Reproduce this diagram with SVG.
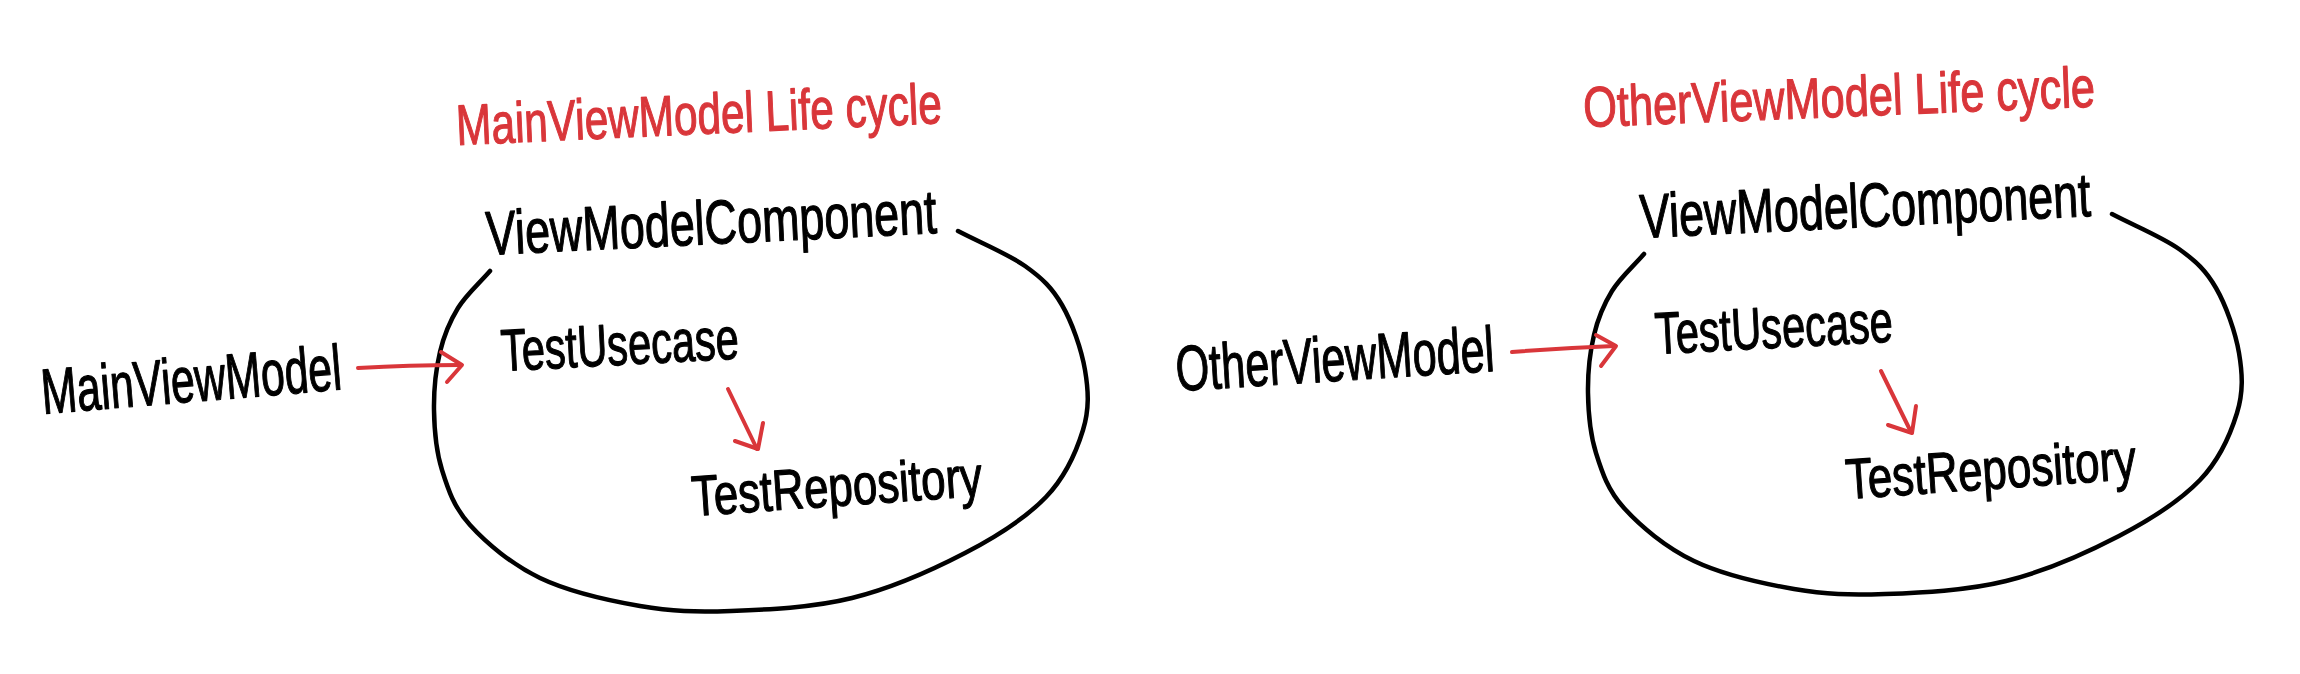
<svg xmlns="http://www.w3.org/2000/svg" xmlns:xlink="http://www.w3.org/1999/xlink" width="2300" height="674" viewBox="0 0 2300 674">
  <style>
    .ink { fill: #000; stroke: #000; stroke-width: 1.2; stroke-linejoin: round; font-family: "Liberation Sans", Arial, sans-serif; }
    .red { fill: #d9363a; stroke: #d9363a; stroke-width: 1.2; stroke-linejoin: round; font-family: "Liberation Sans", Arial, sans-serif; }
    .blob { fill: none; stroke: #000; stroke-width: 4.5; stroke-linecap: round; stroke-linejoin: round; }
    .conn { fill: none; stroke: #d9363a; stroke-width: 4; stroke-linecap: round; stroke-linejoin: round; }
  </style>
  <defs>
    <path id="blobPath" d="M490,271 C479.3,283.3 466.3,294.5 458,308 C449.7,321.5 444,335 440,352 C436,369 433.7,390.3 434,410 C434.3,429.7 436,450.8 442,470 C448,489.2 453.7,507 470,525 C486.3,543 511.7,564.5 540,578 C568.3,591.5 608.2,600.5 640,606 C671.8,611.5 695.7,612.3 731,611 C766.3,609.7 813,607.7 852,598 C891,588.3 932.7,569.8 965,553 C997.3,536.2 1026.3,517.5 1046,497 C1065.7,476.5 1076.5,451.2 1083,430 C1089.5,408.8 1088.5,390.8 1085,370 C1081.5,349.2 1072,322.3 1062,305 C1052,287.7 1042.3,278.3 1025,266 C1007.7,253.7 980.3,242.7 958,231"/>
  </defs>
  <rect width="2300" height="674" fill="#fff"/>

  <!-- Left panel -->
  <g id="title-main">
    <text class="red" x="457" y="145" font-size="57" textLength="486" lengthAdjust="spacingAndGlyphs" transform="rotate(-2.6 457 145)">MainViewModel Life cycle</text>
  </g>
  <g id="component-main">
    <use xlink:href="#blobPath" href="#blobPath" class="blob"/>
    <text class="ink" x="487" y="255" font-size="62" textLength="451" lengthAdjust="spacingAndGlyphs" transform="rotate(-2.8 487 255)">ViewModelComponent</text>
  </g>
  <g id="mainviewmodel">
    <text class="ink" x="43" y="414" font-size="64" textLength="301" lengthAdjust="spacingAndGlyphs" transform="rotate(-4.7 43 414)">MainViewModel</text>
  </g>
  <g id="usecase-main">
    <text class="ink" x="502" y="371" font-size="59" textLength="238" lengthAdjust="spacingAndGlyphs" transform="rotate(-3 502 371)">TestUsecase</text>
  </g>
  <g id="repository-main">
    <text class="ink" x="693" y="516" font-size="57" textLength="291" lengthAdjust="spacingAndGlyphs" transform="rotate(-4 693 516)">TestRepository</text>
  </g>

  <!-- Right panel -->
  <g id="title-other">
    <text class="red" x="1584" y="127" font-size="57" textLength="512" lengthAdjust="spacingAndGlyphs" transform="rotate(-2.3 1584 127)">OtherViewModel Life cycle</text>
  </g>
  <g id="component-other">
    <use xlink:href="#blobPath" href="#blobPath" class="blob" transform="translate(1154 -17)"/>
    <text class="ink" x="1641" y="238" font-size="62" textLength="451" lengthAdjust="spacingAndGlyphs" transform="rotate(-2.8 1641 238)">ViewModelComponent</text>
  </g>
  <g id="otherviewmodel">
    <text class="ink" x="1177" y="391" font-size="64" textLength="319" lengthAdjust="spacingAndGlyphs" transform="rotate(-3.6 1177 391)">OtherViewModel</text>
  </g>
  <g id="usecase-other">
    <text class="ink" x="1656" y="354" font-size="59" textLength="238" lengthAdjust="spacingAndGlyphs" transform="rotate(-3 1656 354)">TestUsecase</text>
  </g>
  <g id="repository-other">
    <text class="ink" x="1847" y="499" font-size="57" textLength="291" lengthAdjust="spacingAndGlyphs" transform="rotate(-4 1847 499)">TestRepository</text>
  </g>

  <!-- Connectors -->
  <g id="connectors">
    <path class="conn" d="M358,368 Q410,365 460,365"/>
    <path class="conn" d="M441,352 L462,365 L447,382"/>
    <path class="conn" d="M728,389 L757,449"/>
    <path class="conn" d="M735,441 L758,449 L763,423"/>
    <path class="conn" d="M1512,352 Q1563,348 1614,346"/>
    <path class="conn" d="M1596,335 L1616,346 L1601,366"/>
    <path class="conn" d="M1881,371 L1911,432"/>
    <path class="conn" d="M1888,425 L1912,433 L1916,406"/>
  </g>
</svg>
